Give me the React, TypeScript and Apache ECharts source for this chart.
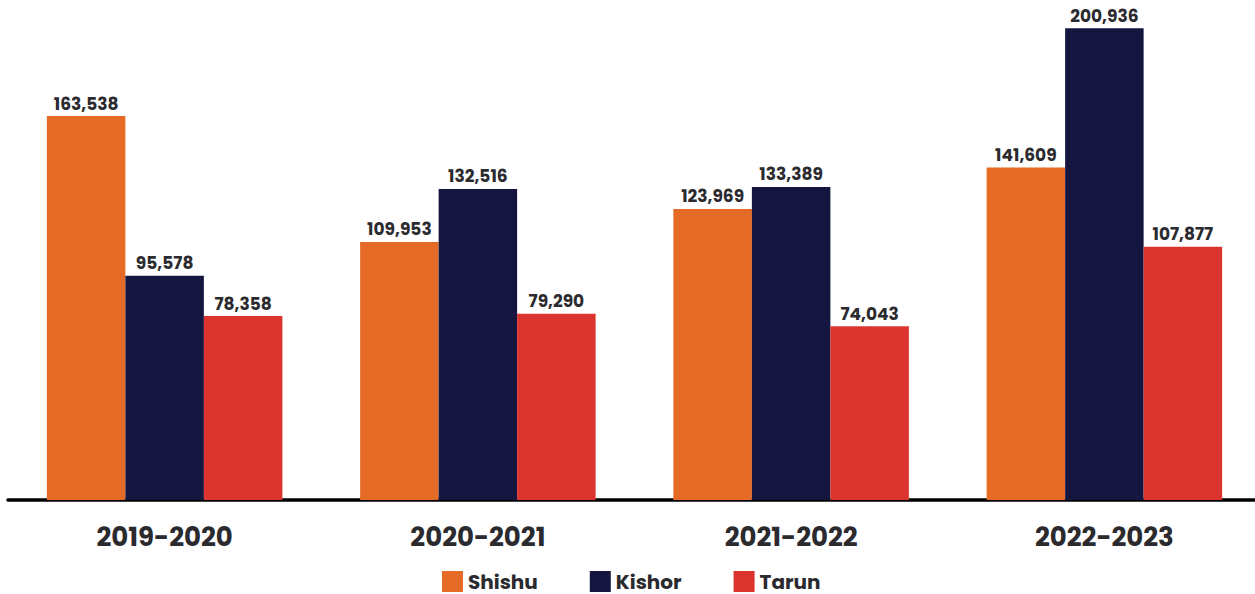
import React, { useEffect, useRef } from "react";
import * as echarts from "echarts";

const categories = ["2019-2020", "2020-2021", "2021-2022", "2022-2023"];
const shishu = [163538, 109953, 123969, 141609];
const kishor = [95578, 132516, 133389, 200936];
const tarun = [78358, 79290, 74043, 107877];

const FONT = "Poppins, Inter, 'Open Sans', sans-serif";
const TEXT = "#2b2a2e";

export default function App() {
  const ref = useRef<HTMLDivElement>(null);
  useEffect(() => {
    if (!ref.current) return;
    const chart = echarts.init(ref.current, null, { renderer: "svg" });
    const label = {
      show: true,
      position: "top",
      distance: 4,
      fontFamily: FONT,
      fontSize: 17,
      fontWeight: "bold",
      color: TEXT,
      formatter: (p: any) => Number(p.value).toLocaleString("en-US"),
    };
    const mk = (name: string, data: number[], color: string) => ({
      name,
      type: "bar",
      data,
      barWidth: 78.5,
      barGap: "0%",
      itemStyle: { color },
      label,
    });
    chart.setOption({
      animation: false,
      textStyle: { fontFamily: FONT },
      grid: { left: 8, top: 0, width: 1253, height: 500 },
      legend: {
        left: 442,
        top: 571,
        padding: 0,
        itemWidth: 21,
        itemHeight: 21,
        itemGap: 52,
        icon: "rect",
        textStyle: { fontFamily: FONT, fontSize: 20, fontWeight: "bold", color: TEXT },
      },
      xAxis: {
        type: "category",
        data: categories,
        axisLine: { lineStyle: { color: "#000", width: 3.5 } },
        axisTick: { show: false },
        axisLabel: {
          fontFamily: FONT,
          fontSize: 26,
          fontWeight: "bold",
          color: TEXT,
          margin: 24,
        },
      },
      yAxis: {
        type: "value",
        min: 0,
        max: 213000,
        show: false,
        splitLine: { show: false },
      },
      series: [
        mk("Shishu", shishu, "#E46A25"),
        mk("Kishor", kishor, "#141640"),
        mk("Tarun", tarun, "#DB342E"),
      ],
    });
    return () => chart.dispose();
  }, []);
  return (
    <div
      style={{ position: "absolute", left: 0, top: 0, width: 1255, height: 594, overflow: "hidden" }}
    >
      <div ref={ref} style={{ width: 1270, height: 594 }} />
    </div>
  );
}
